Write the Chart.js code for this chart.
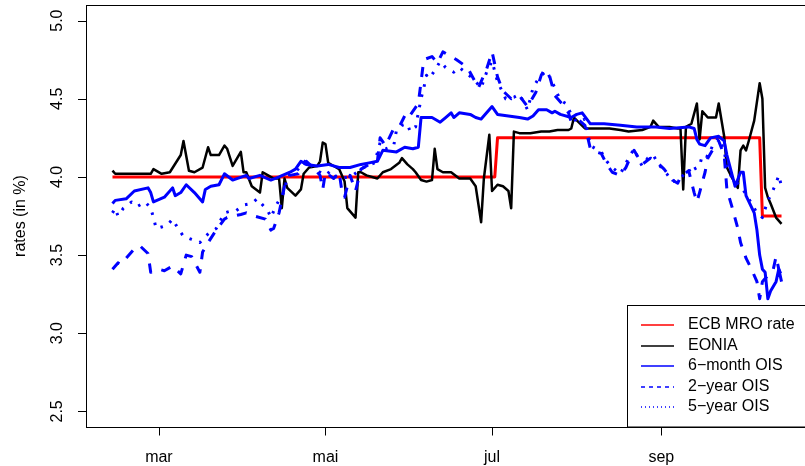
<!DOCTYPE html>
<html>
<head>
<meta charset="utf-8">
<script src="https://cdn.jsdelivr.net/npm/chart.js@4/dist/chart.umd.min.js"></script>
<style>
  html, body { margin: 0; padding: 0; background: #fff; overflow: hidden; }
  canvas { display: block; }
</style>
</head>
<body>
<canvas id="chart" width="805" height="466"></canvas>
<script>
// x values are days of 2008 (1 Jan = 0)
const tickDays = [60, 121, 182, 244];
const tickLabels = ['mar', 'mai', 'jul', 'sep'];
const yTicks = [2.5, 3.0, 3.5, 4.0, 4.5, 5.0];

const seriesNames = ['ECB MRO rate', 'EONIA', '6\u2212month OIS', '2\u2212year OIS', '5\u2212year OIS'];
const seriesColors = ['#ff0000', '#000000', '#0000ff', '#0000ff', '#0000ff'];

const mroDays = [43, 183, 184, 280, 281, 288];
const mroRates = [4.00, 4.00, 4.25, 4.25, 3.75, 3.75];

const eoniaDays = [43, 44, 51, 57, 58, 61, 64, 68, 69, 71, 73, 76, 78, 79, 82, 84, 85, 87, 90, 91,
  92, 94, 97, 98, 100, 102, 104, 105, 106, 107, 110, 112, 113, 115, 118, 119, 120, 121, 122, 124,
  126, 128, 129, 132, 133, 134, 136, 140, 142, 145, 148, 149, 151, 153, 154, 156, 158, 160, 161, 162,
  164, 167, 170, 174, 176, 178, 179, 181, 182, 184, 186, 188, 189, 190, 192, 196, 200, 203, 206, 210,
  211, 212, 216, 220, 225, 229, 232, 237, 240, 241, 243, 247, 250, 251, 252, 253, 255, 257, 258, 259,
  261, 264, 265, 267, 268, 270, 272, 273, 274, 275, 276, 278, 280, 281, 282, 283, 284, 286, 288];
const eoniaRates = [4.04, 4.02, 4.02, 4.02, 4.05, 4.02, 4.03, 4.14, 4.23, 4.04, 4.03, 4.06, 4.19, 4.14, 4.14, 4.20, 4.18, 4.07, 4.16, 4.03,
  4.03, 3.94, 3.90, 4.03, 4.01, 3.99, 3.99, 3.80, 3.99, 3.93, 3.88, 3.92, 4.02, 4.06, 4.07, 4.10, 4.22, 4.21, 4.09, 4.07,
  4.05, 3.97, 3.80, 3.74, 4.03, 4.03, 4.01, 3.99, 4.03, 4.05, 4.09, 4.12, 4.08, 4.05, 4.03, 3.98, 3.97, 3.98, 4.18, 4.05,
  4.03, 4.03, 3.99, 3.99, 3.94, 3.71, 3.99, 4.27, 3.91, 3.95, 3.94, 3.91, 3.80, 4.29, 4.28, 4.28, 4.29, 4.29, 4.30, 4.30,
  4.31, 4.38, 4.31, 4.31, 4.31, 4.30, 4.29, 4.30, 4.32, 4.36, 4.32, 4.32, 4.31, 4.31, 3.92, 4.32, 4.34, 4.47, 4.24, 4.42,
  4.38, 4.38, 4.47, 4.26, 4.06, 3.99, 3.93, 4.17, 4.20, 4.17, 4.23, 4.36, 4.60, 4.50, 3.93, 3.87, 3.83, 3.74, 3.70];

const ois6mDays = [43, 44, 48, 51, 56, 57, 58, 62, 65, 66, 68, 70, 73, 76, 77, 79, 82, 84, 87, 92,
  93, 97, 101, 104, 108, 110, 112, 114, 118, 122, 126, 130, 134, 137, 140, 142, 147, 150, 153, 155,
  156, 160, 163, 165, 167, 168, 170, 174, 176, 178, 182, 184, 188, 192, 195, 197, 199, 202, 204, 205,
  207, 211, 213, 215, 218, 223, 229, 235, 242, 247, 254, 256, 257, 258, 260, 262, 265, 267, 268, 271,
  273, 274, 275, 278, 279, 280, 281, 282, 283, 284, 286, 287, 288];
const ois6mRates = [3.83, 3.85, 3.86, 3.91, 3.93, 3.90, 3.84, 3.87, 3.93, 3.88, 3.90, 3.95, 3.90, 3.84, 3.92, 3.94, 3.95, 4.02, 3.98, 4.01,
  3.99, 4.01, 3.98, 4.00, 4.03, 4.05, 4.10, 4.08, 4.07, 4.08, 4.06, 4.06, 4.08, 4.09, 4.10, 4.17, 4.16, 4.19, 4.18, 4.19,
  4.38, 4.38, 4.35, 4.38, 4.41, 4.38, 4.41, 4.40, 4.38, 4.37, 4.45, 4.40, 4.39, 4.38, 4.37, 4.39, 4.43, 4.43, 4.41, 4.42,
  4.40, 4.38, 4.40, 4.41, 4.34, 4.34, 4.33, 4.32, 4.32, 4.31, 4.32, 4.31, 4.24, 4.21, 4.20, 4.25, 4.26, 4.23, 4.14, 3.94,
  4.03, 4.03, 3.88, 3.77, 3.66, 3.50, 3.41, 3.39, 3.22, 3.27, 3.33, 3.41, 3.33];

const ois2yDays = [43, 45, 46, 48, 51, 53, 56, 57, 60, 62, 65, 68, 70, 72, 75, 76, 78, 81, 84, 85,
  90, 92, 95, 99, 101, 102, 104, 106, 108, 111, 114, 117, 119, 120, 121, 124, 126, 127, 128, 130,
  132, 134, 137, 140, 141, 143, 146, 148, 150, 151, 155, 156, 157, 160, 162, 164, 167, 169, 173, 177,
  180, 182, 184, 186, 189, 192, 195, 198, 200, 201, 203, 205, 208, 210, 211, 214, 216, 218, 220, 222,
  224, 226, 229, 231, 233, 234, 236, 237, 240, 242, 245, 248, 250, 251, 254, 256, 257, 258, 260, 261,
  263, 265, 267, 268, 270, 272, 273, 275, 277, 279, 280, 281, 283, 285, 286, 287, 288];
const ois2yRates = [3.41, 3.45, 3.44, 3.48, 3.54, 3.56, 3.51, 3.39, 3.41, 3.40, 3.43, 3.38, 3.50, 3.49, 3.39, 3.52, 3.58, 3.66, 3.73, 3.74,
  3.76, 3.77, 3.75, 3.73, 3.66, 3.67, 3.77, 3.94, 4.01, 4.02, 4.10, 4.05, 4.01, 3.92, 4.03, 3.99, 4.03, 3.91, 3.87, 4.01,
  3.91, 4.05, 4.08, 4.10, 4.25, 4.20, 4.31, 4.32, 4.39, 4.37, 4.47, 4.61, 4.75, 4.77, 4.73, 4.80, 4.77, 4.75, 4.70, 4.57,
  4.69, 4.80, 4.64, 4.55, 4.50, 4.52, 4.45, 4.54, 4.65, 4.68, 4.65, 4.52, 4.46, 4.41, 4.35, 4.36, 4.33, 4.18, 4.16, 4.15,
  4.08, 4.03, 4.01, 4.06, 4.14, 4.17, 4.11, 4.08, 4.12, 4.10, 4.05, 3.98, 3.96, 4.00, 4.04, 3.90, 3.84, 3.90, 4.03, 4.12,
  4.18, 4.23, 4.14, 3.92, 3.80, 3.67, 3.58, 3.48, 3.41, 3.33, 3.22, 3.33, 3.37, 3.41, 3.49, 3.41, 3.37];

const ois5yDays = [43, 44, 45, 47, 50, 52, 55, 57, 58, 59, 61, 63, 65, 67, 69, 72, 75, 77, 79, 81,
  84, 86, 88, 91, 94, 96, 98, 100, 101, 103, 106, 107, 110, 112, 114, 117, 119, 121, 123, 125,
  127, 129, 131, 134, 136, 139, 141, 143, 146, 147, 149, 151, 152, 154, 156, 157, 158, 159, 161, 163,
  165, 168, 170, 175, 178, 180, 182, 184, 187, 190, 192, 195, 197, 199, 202, 205, 207, 209, 211, 213,
  216, 218, 222, 224, 226, 229, 232, 234, 236, 237, 239, 241, 243, 246, 248, 250, 251, 254, 255, 256,
  258, 259, 261, 263, 265, 267, 268, 270, 273, 275, 277, 279, 281, 283, 284, 286, 287, 288];
const ois5yRates = [3.77, 3.80, 3.75, 3.80, 3.84, 3.81, 3.84, 3.80, 3.74, 3.67, 3.68, 3.69, 3.73, 3.67, 3.62, 3.60, 3.58, 3.62, 3.65, 3.67,
  3.77, 3.78, 3.78, 3.82, 3.83, 3.86, 3.82, 3.78, 3.74, 3.82, 3.91, 4.01, 4.03, 4.07, 4.11, 4.05, 4.03, 4.01, 4.04, 4.00,
  3.99, 4.00, 4.01, 4.05, 4.07, 4.09, 4.22, 4.18, 4.20, 4.30, 4.33, 4.34, 4.29, 4.32, 4.50, 4.57, 4.65, 4.63, 4.68, 4.74,
  4.70, 4.67, 4.70, 4.63, 4.57, 4.67, 4.74, 4.61, 4.50, 4.51, 4.53, 4.43, 4.57, 4.63, 4.68, 4.57, 4.49, 4.47, 4.40, 4.35,
  4.37, 4.20, 4.16, 4.10, 4.06, 4.02, 4.12, 4.18, 4.10, 4.07, 4.12, 4.14, 4.08, 4.02, 3.97, 3.98, 3.99, 4.05, 4.02, 4.05,
  4.07, 4.14, 4.13, 4.21, 4.25, 4.17, 4.06, 3.99, 3.94, 3.89, 3.83, 3.77, 3.74, 3.85, 3.88, 3.96, 4.01, 3.94];

const FONT = '"Liberation Sans", Arial, Helvetica, sans-serif';
const legendDashes = [[], [], [], [4, 4], [1, 3]];

function pts(days, vals) {
  return days.map((d, i) => ({ x: d, y: vals[i] }));
}

// R style box, axes, labels and legend
const rLook = {
  id: 'rLook',
  afterDraw(chart) {
    const ctx = chart.ctx;
    const a = chart.chartArea;
    const xs = chart.scales.x;
    const ys = chart.scales.y;
    ctx.save();
    ctx.strokeStyle = '#000';
    ctx.fillStyle = '#000';
    ctx.lineWidth = 1;
    ctx.setLineDash([]);
    ctx.strokeRect(Math.round(a.left) + 0.5, Math.round(a.top) + 0.5,
      Math.round(a.right - a.left) + 2, Math.round(a.bottom - a.top));

    ctx.font = '16px ' + FONT;
    // y axis
    ctx.beginPath();
    const yTop = Math.round(ys.getPixelForValue(yTicks[yTicks.length - 1])) + 0.5;
    const yBot = Math.round(ys.getPixelForValue(yTicks[0])) + 0.5;
    ctx.moveTo(a.left + 0.5, yTop);
    ctx.lineTo(a.left + 0.5, yBot);
    yTicks.forEach(v => {
      const py = Math.round(ys.getPixelForValue(v)) + 0.5;
      ctx.moveTo(a.left + 0.5, py);
      ctx.lineTo(a.left - 8, py);
    });
    ctx.stroke();
    ctx.textAlign = 'center';
    ctx.textBaseline = 'alphabetic';
    yTicks.forEach(v => {
      const py = ys.getPixelForValue(v);
      ctx.save();
      ctx.translate(62, py);
      ctx.rotate(-Math.PI / 2);
      ctx.fillText(v.toFixed(1), 0, 0);
      ctx.restore();
    });
    ctx.save();
    ctx.translate(25, (a.top + a.bottom) / 2);
    ctx.rotate(-Math.PI / 2);
    ctx.fillText('rates (in %)', 0, 0);
    ctx.restore();

    // x axis
    ctx.beginPath();
    const xb = Math.round(a.bottom) + 0.5;
    ctx.moveTo(Math.round(xs.getPixelForValue(tickDays[0])) + 0.5, xb);
    ctx.lineTo(Math.round(xs.getPixelForValue(tickDays[tickDays.length - 1])) + 0.5, xb);
    tickDays.forEach(d => {
      const px = Math.round(xs.getPixelForValue(d)) + 0.5;
      ctx.moveTo(px, xb);
      ctx.lineTo(px, xb + 8);
    });
    ctx.stroke();
    tickDays.forEach((d, i) => {
      ctx.fillText(tickLabels[i], xs.getPixelForValue(d), 462);
    });

    // legend
    const lx = 627.5, ly = 305.5;
    ctx.fillStyle = '#fff';
    ctx.fillRect(lx, ly, 200, a.bottom - ly);
    ctx.strokeStyle = '#000';
    ctx.strokeRect(lx, ly, 200, a.bottom - ly);
    ctx.textAlign = 'left';
    ctx.textBaseline = 'middle';
    seriesNames.forEach((name, i) => {
      const ry = Math.round(325 + i * 20.5);
      ctx.strokeStyle = seriesColors[i];
      ctx.lineWidth = 1.3;
      ctx.setLineDash(legendDashes[i]);
      ctx.beginPath();
      ctx.moveTo(641, ry);
      ctx.lineTo(674, ry);
      ctx.stroke();
      ctx.fillStyle = '#000';
      ctx.fillText(name, 688, ry);
    });
    ctx.restore();
  }
};

new Chart(document.getElementById('chart'), {
  type: 'line',
  data: {
    datasets: [
      { label: seriesNames[0], data: pts(mroDays, mroRates), borderColor: seriesColors[0],
        borderWidth: 3, order: 5 },
      { label: seriesNames[1], data: pts(eoniaDays, eoniaRates), borderColor: seriesColors[1],
        borderWidth: 2.5, order: 4 },
      { label: seriesNames[2], data: pts(ois6mDays, ois6mRates), borderColor: seriesColors[2],
        borderWidth: 3, order: 3 },
      { label: seriesNames[3], data: pts(ois2yDays, ois2yRates), borderColor: seriesColors[3],
        borderWidth: 3, borderDash: [10, 10], order: 2 },
      { label: seriesNames[4], data: pts(ois5yDays, ois5yRates), borderColor: seriesColors[4],
        borderWidth: 3, borderDash: [2.5, 8], order: 1 }
    ]
  },
  options: {
    responsive: false,
    animation: false,
    devicePixelRatio: 1,
    layout: { padding: { left: 86, top: 5, right: 0, bottom: 39 } },
    elements: { point: { radius: 0 }, line: { tension: 0, borderJoinStyle: 'round' } },
    scales: {
      x: { type: 'linear', min: 33.3, max: 296.6, display: false },
      y: { min: 2.4, max: 5.1, display: false }
    },
    plugins: { legend: { display: false }, tooltip: { enabled: false } }
  },
  plugins: [rLook]
});
</script>
</body>
</html>
